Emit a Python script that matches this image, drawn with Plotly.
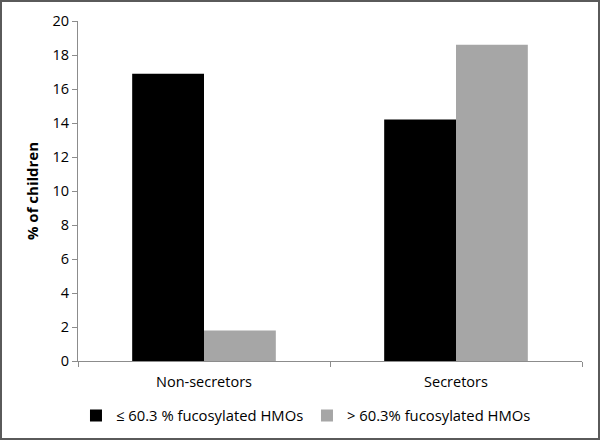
import plotly.graph_objects as go

categories = ["Non-secretors", "Secretors"]
series_names = ["≤ 60.3 % fucosylated HMOs", "> 60.3% fucosylated HMOs"]
low_fuco = [16.9, 14.2]
high_fuco = [1.8, 18.6]
y_ticks = [0, 2, 4, 6, 8, 10, 12, 14, 16, 18, 20]

W, H = 602, 443
L, R, T, B = 78, 20, 21, 82
pw, ph = W - L - R, H - T - B

font = dict(family="Open Sans, Liberation Sans, sans-serif", size=14, color="#000")

fig = go.Figure()
fig.add_trace(go.Bar(x=categories, y=low_fuco, name=series_names[0],
                     marker=dict(color="#000000", line=dict(width=0))))
fig.add_trace(go.Bar(x=categories, y=high_fuco, name=series_names[1],
                     marker=dict(color="#a6a6a6", line=dict(width=0))))

# frame around the whole picture, in pixels converted to paper units
fx0, fx1, fy_top, fy_bot = 1, 599, 1, 439

fig.update_layout(
    width=W, height=H,
    margin=dict(l=L, r=R, t=T, b=B, pad=0, autoexpand=False),
    paper_bgcolor="white", plot_bgcolor="white",
    font=font,
    barmode="group", bargap=0.43, bargroupgap=0,
    showlegend=True,
    legend=dict(orientation="h", x=-0.004, xanchor="left", y=-(416 - (H - B)) / ph,
                yanchor="middle",
                font=dict(size=14.8), entrywidth=186, itemwidth=30, traceorder="normal",
                bgcolor="rgba(0,0,0,0)"),
    xaxis=dict(showline=True, linecolor="#8c8c8c", linewidth=1, ticks="outside",
               tickson="boundaries", ticklen=5, tickcolor="#8c8c8c",
               showgrid=False, tickfont=dict(size=14.5), ticklabelstandoff=8),
    yaxis=dict(range=[0, 20], tickvals=y_ticks, showline=True, linecolor="#8c8c8c",
               linewidth=1, ticks="outside", ticklen=5, tickcolor="#8c8c8c",
               showgrid=False, zeroline=False, tickfont=dict(size=14.5),
               title=dict(text="<b>% of children</b>", font=dict(size=15), standoff=10)),
    shapes=[dict(type="rect", xref="paper", yref="paper",
                 x0=(fx0 - L) / pw, x1=(fx1 - L) / pw,
                 y0=((H - B) - fy_bot) / ph, y1=((H - B) - fy_top) / ph,
                 line=dict(color="#5a5a5a", width=2))],
)

fig.write_html("out.html", config={"displayModeBar": False},
               post_script="document.body.style.margin='0';document.body.style.overflow='hidden';")
